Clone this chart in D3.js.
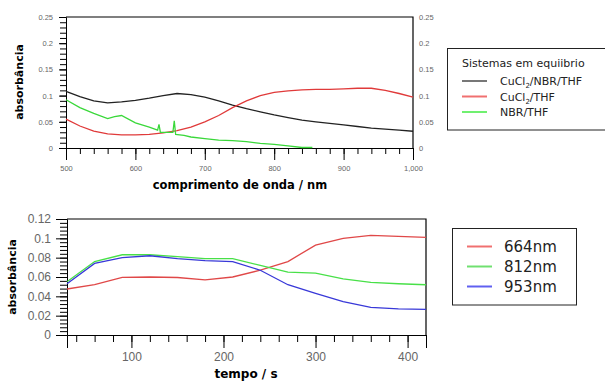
<!DOCTYPE html>
<html>
<head>
<meta charset="utf-8">
<script src="https://cdn.jsdelivr.net/npm/d3@7"></script>
<style>
  body { margin: 0; background: #fff; }
  svg { display: block; font-family: "DejaVu Sans", sans-serif; }
</style>
</head>
<body>
<div id="chart"></div>
<script>
// top panel: spectra
const wavelength = [500, 520, 540, 560, 580, 600, 620, 640, 660, 680, 700, 720, 740, 760, 780, 800, 820, 840, 860, 880, 900, 920, 940, 960, 980, 1000];
const cuNbrThf = [0.108, 0.098, 0.090, 0.086, 0.088, 0.091, 0.095, 0.100, 0.104, 0.102, 0.097, 0.090, 0.082, 0.075, 0.069, 0.063, 0.058, 0.053, 0.050, 0.047, 0.044, 0.041, 0.038, 0.036, 0.034, 0.032];
const cuThf = [0.055, 0.042, 0.032, 0.027, 0.025, 0.025, 0.026, 0.029, 0.033, 0.040, 0.050, 0.062, 0.077, 0.090, 0.100, 0.106, 0.109, 0.111, 0.112, 0.112, 0.113, 0.114, 0.114, 0.110, 0.104, 0.097];
const nbrWavelength = [500, 520, 540, 560, 570, 580, 600, 620, 632, 634, 636, 645, 654, 656, 658, 670, 680, 700, 720, 740, 760, 780, 800, 820, 840, 855];
const nbrThf = [0.092, 0.077, 0.066, 0.056, 0.060, 0.062, 0.048, 0.040, 0.034, 0.045, 0.030, 0.030, 0.030, 0.052, 0.026, 0.024, 0.021, 0.018, 0.015, 0.014, 0.012, 0.009, 0.007, 0.004, 0.001, 0.001];
const spectraNames = ["Sistemas em equiibrio", "CuCl", "CuCl", "NBR/THF"];

// bottom panel: kinetics
const tempo = [30, 60, 90, 120, 150, 180, 210, 240, 270, 300, 330, 360, 390, 420];
const nm664 = [0.0476, 0.052, 0.0597, 0.060, 0.0595, 0.057, 0.060, 0.067, 0.076, 0.093, 0.100, 0.103, 0.102, 0.101];
const nm812 = [0.055, 0.076, 0.083, 0.083, 0.081, 0.079, 0.079, 0.072, 0.065, 0.064, 0.058, 0.0545, 0.053, 0.052];
const nm953 = [0.053, 0.074, 0.080, 0.082, 0.079, 0.077, 0.076, 0.067, 0.052, 0.043, 0.0345, 0.0286, 0.027, 0.0266];
const kineticNames = ["664nm", "812nm", "953nm"];

const W = 605, H = 381;
const svg = d3.select("#chart").append("svg").attr("width", W).attr("height", H);
const grey = "#666";

function frame(g, x, y) {
  const [x0, x1] = x.range(), [y1, y0] = y.range();
  g.append("path")
    .attr("d", `M${x0},${y0}H${x1}V${y1}`)
    .attr("fill", "none").attr("stroke", "#000").attr("stroke-width", 1.2);
}

// ---------- top ----------
const x1 = d3.scaleLinear().domain([500, 1000]).range([66, 413]);
const y1 = d3.scaleLinear().domain([0, 0.25]).range([148, 17]);
const topPanel = svg.append("g");

// minor ticks
topPanel.append("g").attr("transform", "translate(0,148)")
  .call(d3.axisBottom(x1).tickValues(d3.range(500, 1001, 20)).tickSize(6).tickFormat(""))
  .call(g => g.select(".domain").remove());
topPanel.append("g").attr("transform", "translate(0,148)")
  .call(d3.axisBottom(x1).tickValues([500, 600, 700, 800, 900, 1000]).tickSize(12).tickPadding(6).tickFormat(d3.format(",")))
  .call(g => g.selectAll("text").attr("font-size", 7.5).attr("fill", grey));
topPanel.append("g").attr("transform", "translate(66,0)")
  .call(d3.axisLeft(y1).tickValues(d3.range(0, 0.251, 0.01)).tickSize(6).tickFormat(""))
  .call(g => g.select(".domain").remove());
topPanel.append("g").attr("transform", "translate(66,0)")
  .call(d3.axisLeft(y1).tickValues([0, 0.05, 0.1, 0.15, 0.2, 0.25]).tickSize(7).tickPadding(6).tickFormat(d3.format("")))
  .call(g => g.selectAll("text").attr("font-size", 7.5).attr("fill", grey));
topPanel.append("g").attr("transform", "translate(413,0)")
  .call(d3.axisRight(y1).tickValues([0, 0.05, 0.1, 0.15, 0.2, 0.25]).tickSize(0).tickPadding(6).tickFormat(d3.format("")))
  .call(g => g.selectAll("text").attr("font-size", 7.5).attr("fill", grey))
  .call(g => g.select(".domain").remove());
frame(topPanel, x1, y1);

const line1 = (xs) => d3.line().x((d, i) => x1(xs[i])).y(d => y1(d));
topPanel.append("path").datum(cuNbrThf).attr("fill", "none").attr("stroke", "#222").attr("stroke-width", 1.3).attr("d", line1(wavelength));
topPanel.append("path").datum(cuThf).attr("fill", "none").attr("stroke", "#e03a3a").attr("stroke-width", 1.3).attr("d", line1(wavelength));
topPanel.append("path").datum(nbrThf).attr("fill", "none").attr("stroke", "#3ad83a").attr("stroke-width", 1.3).attr("d", line1(nbrWavelength));

topPanel.append("text").attr("transform", "translate(23,82) rotate(-90)").attr("text-anchor", "middle")
  .attr("font-size", 11).attr("font-weight", "bold").text("absorbância");
topPanel.append("text").attr("x", 240).attr("y", 189).attr("text-anchor", "middle")
  .attr("font-size", 11.5).attr("font-weight", "bold").text("comprimento de onda / nm");

// legend top
const lg1 = svg.append("g");
lg1.append("rect").attr("x", 447.5).attr("y", 48.5).attr("width", 160).attr("height", 81.5)
  .attr("fill", "#fff").attr("stroke", "#222");
lg1.append("text").attr("x", 462).attr("y", 67).attr("font-size", 11).attr("fill", "#222").text(spectraNames[0]);
const lg1Colors = ["#777", "#f07070", "#70f070"];
lg1Colors.forEach((c, i) => {
  const yy = 81 + i * 15.5;
  lg1.append("line").attr("x1", 462).attr("x2", 487).attr("y1", yy).attr("y2", yy).attr("stroke", c).attr("stroke-width", 2);
  const t = lg1.append("text").attr("x", 500).attr("y", yy + 4).attr("font-size", 11).attr("fill", "#222");
  if (i < 2) {
    t.append("tspan").text(spectraNames[i + 1]);
    t.append("tspan").attr("font-size", 7).attr("dy", 3).text("2");
    t.append("tspan").attr("dy", -3).text(i === 0 ? "/NBR/THF" : "/THF");
  } else {
    t.text(spectraNames[3]);
  }
});

// ---------- bottom ----------
const x2 = d3.scaleLinear().domain([30, 420]).range([67, 426]);
const y2 = d3.scaleLinear().domain([0, 0.12]).range([335, 219]);
const botPanel = svg.append("g");

botPanel.append("g").attr("transform", "translate(0,335)")
  .call(d3.axisBottom(x2).tickValues(d3.range(40, 421, 20)).tickSize(7).tickFormat(""))
  .call(g => g.select(".domain").remove());
botPanel.append("g").attr("transform", "translate(0,335)")
  .call(d3.axisBottom(x2).tickValues([100, 200, 300, 400]).tickSize(13).tickPadding(4).tickFormat(d3.format("")))
  .call(g => g.selectAll("text").attr("font-size", 12).attr("fill", grey));
botPanel.append("g").attr("transform", "translate(67,0)")
  .call(d3.axisLeft(y2).tickValues(d3.range(0, 0.1201, 0.004)).tickSize(7).tickFormat(""))
  .call(g => g.select(".domain").remove());
botPanel.append("g").attr("transform", "translate(67,0)")
  .call(d3.axisLeft(y2).tickValues([0, 0.02, 0.04, 0.06, 0.08, 0.1, 0.12]).tickSize(11).tickPadding(5).tickFormat(d3.format("")))
  .call(g => g.selectAll("text").attr("font-size", 12).attr("fill", grey));
frame(botPanel, x2, y2);

const line2 = d3.line().x((d, i) => x2(tempo[i])).y(d => y2(d));
botPanel.append("path").datum(nm664).attr("fill", "none").attr("stroke", "#e04848").attr("stroke-width", 1.3).attr("d", line2);
botPanel.append("path").datum(nm812).attr("fill", "none").attr("stroke", "#48e048").attr("stroke-width", 1.3).attr("d", line2);
botPanel.append("path").datum(nm953).attr("fill", "none").attr("stroke", "#3838d8").attr("stroke-width", 1.3).attr("d", line2);

botPanel.append("text").attr("transform", "translate(16,277) rotate(-90)").attr("text-anchor", "middle")
  .attr("font-size", 11).attr("font-weight", "bold").text("absorbância");
botPanel.append("text").attr("x", 246).attr("y", 378).attr("text-anchor", "middle")
  .attr("font-size", 12).attr("font-weight", "bold").text("tempo / s");

// legend bottom
const lg2 = svg.append("g");
lg2.append("rect").attr("x", 452.5).attr("y", 228.5).attr("width", 124).attr("height", 76.5)
  .attr("fill", "#fff").attr("stroke", "#222");
const lg2Colors = ["#f07070", "#70e070", "#6060f0"];
kineticNames.forEach((n, i) => {
  const yy = 246.5 + i * 20;
  lg2.append("line").attr("x1", 467).attr("x2", 492).attr("y1", yy).attr("y2", yy).attr("stroke", lg2Colors[i]).attr("stroke-width", 2);
  lg2.append("text").attr("x", 504).attr("y", yy + 5.5).attr("font-size", 15).attr("fill", "#222").text(n);
});
</script>
</body>
</html>
